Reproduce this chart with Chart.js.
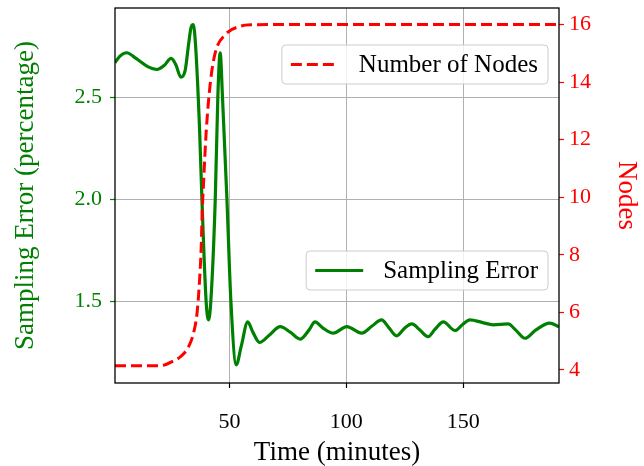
<!DOCTYPE html>
<html>
<head>
<meta charset="utf-8">
<script src="https://cdn.jsdelivr.net/npm/chart.js@4.4.0/dist/chart.umd.min.js"></script>
<style>
  html, body { margin: 0; padding: 0; background: #fff; }
  #chart { display: block; }
</style>
</head>
<body>
<canvas id="chart" width="644" height="466"></canvas>
<script>
// Sampling error over time (minutes)
const errorTimes = [1, 3, 6, 10, 15, 19, 22, 25, 27, 29.2, 31, 32.5, 33.5, 34.5, 35.5, 37.2, 38.2, 40, 41, 42, 43.9, 45, 46, 47, 48.9, 50.6, 52.9, 55, 57.8, 60, 62.8, 67, 71.7, 76, 80.2, 84, 86.6, 90, 94.4, 100.2, 106.6, 111, 115.1, 118, 121.5, 125, 128, 131.5, 135, 138, 141.5, 146.5, 150, 152.9, 158, 162.8, 169.2, 172.5, 176.4, 181, 187, 191];
const errorValues = [2.669, 2.70, 2.718, 2.69, 2.65, 2.636, 2.655, 2.69, 2.66, 2.598, 2.63, 2.76, 2.84, 2.856, 2.75, 2.34, 2.0, 1.5, 1.41, 1.5, 2.0, 2.5, 2.718, 2.5, 2.0, 1.5, 1.19, 1.28, 1.40, 1.35, 1.30, 1.335, 1.377, 1.35, 1.316, 1.36, 1.40, 1.37, 1.345, 1.377, 1.345, 1.38, 1.41, 1.375, 1.332, 1.37, 1.39, 1.36, 1.328, 1.365, 1.40, 1.358, 1.39, 1.41, 1.398, 1.386, 1.39, 1.36, 1.32, 1.36, 1.394, 1.377];

// Number of nodes over time (minutes)
const nodeTimes = [1, 10, 20, 22.5, 25.4, 29, 32.5, 34.6, 36.1, 37.2, 37.9, 38.3, 38.9, 40, 41.8, 43.9, 48.2, 54.6, 60, 70, 191];
const nodeValues = [4.15, 4.15, 4.15, 4.18, 4.29, 4.46, 4.81, 5.28, 5.97, 7.13, 8.29, 9.45, 10.5, 12.24, 13.98, 15.02, 15.65, 15.94, 15.99, 16.0, 16.0];

const timeTicks = [50, 100, 150];
const errorTicks = [1.5, 2.0, 2.5];
const nodeTicks = [4, 6, 8, 10, 12, 14, 16];

const serif = "'Liberation Serif', 'DejaVu Serif', serif";
const green = "#008000";
const red = "#ff0000";
const gridGrey = "#b0b0b0";

function pairs(xs, ys) {
  return xs.map((x, i) => ({ x: x, y: ys[i] }));
}

function fixedTicks(values) {
  return scale => {
    scale.ticks = values.map(v => ({ value: v }));
  };
}

// pin the axis thickness and drop the label overhang padding
function fixedSize(size) {
  return s => {
    if (s.isHorizontal()) s.height = size;
    else s.width = size;
    s.paddingTop = 0;
    s.paddingBottom = 0;
    s.paddingLeft = 0;
    s.paddingRight = 0;
  };
}

// black box around the plot area
const frame = {
  id: "frame",
  afterDatasetsDraw: chart => {
    const a = chart.chartArea;
    const ctx = chart.ctx;
    ctx.save();
    ctx.strokeStyle = "#000";
    ctx.lineWidth = 1.3;
    ctx.strokeRect(a.left, a.top, a.right - a.left, a.bottom - a.top);
    ctx.restore();
  }
};

// one framed legend entry per series
const boxedLegends = {
  id: "boxedLegends",
  afterDraw: (chart, args, opts) => {
    const ctx = chart.ctx;
    opts.items.forEach(item => {
      const ds = chart.data.datasets[item.dataset];
      ctx.save();
      ctx.font = opts.font;
      const textW = ctx.measureText(ds.label).width;
      const w = 9 + 48 + 20 + textW + 10;
      const h = 39;
      const x = item.right - w;
      const y = item.top;

      ctx.beginPath();
      ctx.roundRect(x, y, w, h, 4);
      ctx.fillStyle = "rgba(255,255,255,0.8)";
      ctx.fill();
      ctx.strokeStyle = "#cccccc";
      ctx.lineWidth = 1;
      ctx.stroke();

      ctx.beginPath();
      ctx.setLineDash(ds.borderDash || []);
      ctx.strokeStyle = ds.borderColor;
      ctx.lineWidth = ds.borderWidth;
      ctx.moveTo(x + 9, y + h / 2);
      ctx.lineTo(x + 57, y + h / 2);
      ctx.stroke();
      ctx.setLineDash([]);

      ctx.fillStyle = "#000";
      ctx.textBaseline = "middle";
      ctx.fillText(ds.label, x + 77, y + h / 2 + 1);
      ctx.restore();
    });
  }
};

const chart = new Chart(document.getElementById("chart"), {
  type: "line",
  data: {
    datasets: [
      {
        label: "Number of Nodes",
        data: pairs(nodeTimes, nodeValues),
        yAxisID: "y2",
        borderColor: red,
        borderWidth: 3,
        borderDash: [11, 5],
        cubicInterpolationMode: "monotone",
        pointRadius: 0
      },
      {
        label: "Sampling Error",
        data: pairs(errorTimes, errorValues),
        yAxisID: "y",
        borderColor: green,
        borderWidth: 3.2,
        cubicInterpolationMode: "monotone",
        pointRadius: 0
      }
    ]
  },
  options: {
    responsive: false,
    animation: false,
    devicePixelRatio: 1,
    layout: { padding: { top: 8, left: 0, right: 0, bottom: 0 } },
    plugins: {
      legend: { display: false },
      tooltip: { enabled: false },
      boxedLegends: {
        font: "25px " + serif,
        items: [
          { dataset: 0, top: 45, right: 548 },
          { dataset: 1, top: 251, right: 548 }
        ]
      }
    },
    scales: {
      x: {
        type: "linear",
        min: 1,
        max: 191,
        afterBuildTicks: fixedTicks(timeTicks),
        afterFit: fixedSize(83),
        border: { display: false },
        grid: { color: gridGrey, lineWidth: 1, tickColor: "#000", tickLength: 5, tickWidth: 1.2 },
        ticks: {
          color: "#000",
          font: { family: serif, size: 22 },
          padding: 21,
          maxRotation: 0,
          callback: v => String(v)
        },
        title: {
          display: true,
          text: "Time (minutes)",
          color: "#000",
          font: { family: serif, size: 27, lineHeight: 1 },
          padding: { top: 0, bottom: 0 }
        }
      },
      y: {
        position: "left",
        min: 1.101,
        max: 2.937,
        afterBuildTicks: fixedTicks(errorTicks),
        afterFit: fixedSize(115),
        border: { display: false },
        grid: { color: gridGrey, lineWidth: 1, tickColor: green, tickLength: 5, tickWidth: 1.2 },
        ticks: {
          color: green,
          font: { family: serif, size: 22 },
          padding: 8,
          callback: v => v.toFixed(1)
        },
        title: {
          display: true,
          text: "Sampling Error (percentage)",
          color: green,
          font: { family: serif, size: 27, lineHeight: 1 },
          padding: { top: 12, bottom: 0 }
        }
      },
      y2: {
        position: "right",
        min: 3.548,
        max: 16.574,
        afterBuildTicks: fixedTicks(nodeTicks),
        afterFit: fixedSize(85),
        border: { display: false },
        grid: { drawOnChartArea: false, tickColor: red, tickLength: 5, tickWidth: 1.2 },
        ticks: {
          color: red,
          font: { family: serif, size: 22 },
          padding: 5,
          callback: v => String(v)
        },
        title: {
          display: true,
          text: "Nodes",
          color: red,
          font: { family: serif, size: 27, lineHeight: 1 },
          padding: { top: 4, bottom: 0 }
        }
      }
    }
  },
  plugins: [frame, boxedLegends]
});
</script>
</body>
</html>
